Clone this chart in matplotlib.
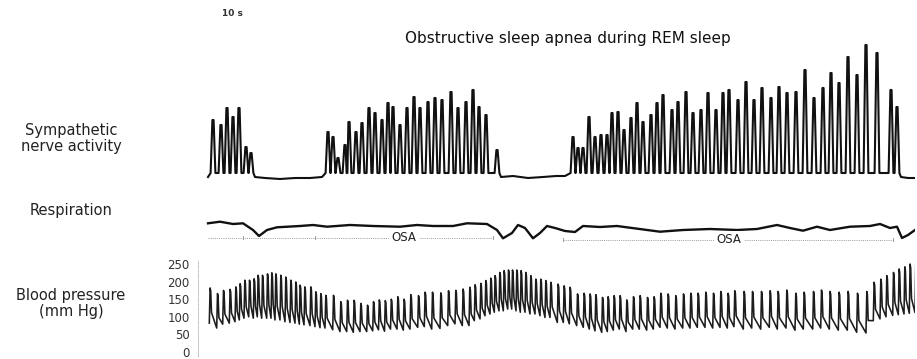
import numpy as np
import matplotlib
matplotlib.use("Agg")
import matplotlib.pyplot as plt

# ---------------- data (time in trace units from start of recording) ----------------
# Sympathetic nerve activity: burst times and burst amplitudes (arbitrary units)
sna_t = [5, 13, 19, 25, 31, 38, 43,
         120, 125, 130, 137, 141, 148, 154, 161, 167, 174, 180, 185, 192, 199, 206, 212,
         220, 227, 234, 243, 250, 258, 265, 271, 278, 289,
         365, 370, 375, 381, 387, 393, 399, 404, 410, 416, 423, 429, 435, 443, 449, 455,
         464, 470, 478, 485, 493, 500, 508, 515, 521, 530, 538, 546, 554, 563, 571, 579,
         588, 597, 606, 615, 623, 631, 640, 649, 658, 669, 683, 689]
sna_h = [57, 52, 69, 60, 69, 30, 24,
         45, 40, 19, 32, 55, 45, 54, 69, 64, 57, 74, 70, 52, 69, 80, 69,
         75, 79, 77, 85, 69, 75, 87, 70, 62, 27,
         40, 29, 29, 60, 40, 42, 42, 64, 65, 47, 59, 74, 55, 62, 74, 82,
         67, 75, 85, 64, 67, 84, 67, 84, 87, 77, 95, 77, 89, 79, 90, 84,
         85, 107, 79, 89, 104, 94, 120, 102, 132, 124, 87, 70]
# quiet (apnoeic) baseline segments of nerve activity
sna_base_t = [0, 47, 57, 72, 87, 102, 114, 293, 305, 320, 335, 348, 357, 693, 700, 707]
sna_base_v = [0, 0, -1, -2, -1, -1, 0, 0, 1, -1, 0, 1, 1, 0, -1, -1]

# Respiration trace
resp_t = [0, 12, 25, 35, 45, 51, 59, 69, 92, 105, 119, 142, 165, 192, 209, 225, 245, 259,
          279, 289, 295, 304, 310, 317, 325, 332, 339, 347, 357, 367, 375, 392, 409, 452,
          475, 502, 529, 549, 569, 582, 595, 609, 622, 642, 662, 672, 682, 689, 694, 700, 707]
resp_v = [6.7, 8.3, 6, 6.7, 0, -6, 0, 2.7, 4, 5, 3.3, 5, 4, 3.3, 5, 4, 4, 6.7,
          6, 0, -8.3, -3, 5, 2, -8.3, -3, 4, 2, -1, -2, 4, 3, 4, -1.7,
          0, 1, 0, 1, 5, 2, -0.7, 3.3, 0, 3.3, 4, 6, 2, 3.3, -8, -5, 0]
# obstructive apnoea episodes (start, end) and marker ticks
osa_spans = [(0, 285), (355, 685)]
osa_label_t = [196, 521]
osa_ticks = [35, 107, 285, 355, 685]

# Blood pressure: beat times, systolic and diastolic (mm Hg)
bp_t = [1.3, 8.7, 14.7, 21.3, 27, 31.3, 36, 40.7, 45.3, 49.3, 53.7, 58.7, 63, 67, 72, 77,
        82, 87, 91.3, 96, 102, 107, 112, 117, 124.7, 132, 138.7, 145.3, 152, 158.7, 164.7, 170.5,
        176.5, 182.5, 189, 195.3, 202, 209.7, 216.3, 223.7, 232, 239.7, 247, 254.3, 261, 266.3,
        272, 277, 282, 286.3, 291, 295.3, 299.7, 303.7, 308, 312.3, 317, 322, 327, 332, 337, 342,
        349.3, 355.3, 361.3, 368.7, 375.3, 381.3, 387, 393.7, 399.3, 405.3, 411.3, 418, 424.7,
        431.3, 438.7, 445.3, 452, 459.3, 467, 474.7, 482, 489.3, 497, 504.7, 512, 519.3, 526,
        535.3, 543.7, 552.7, 561.3, 569.3, 578, 587, 595.3, 604.7, 612.7, 621.3, 630.3, 639.3,
        648.7, 658, 665.3, 672, 678, 684.7, 690.3, 696, 701.3, 707]
bp_sys = [182, 166, 175, 178, 185, 194, 204, 204, 208, 218, 218, 222, 225, 222, 218, 213,
          204, 199, 190, 185, 185, 171, 166, 161, 161, 143, 147, 147, 138, 133, 143, 148,
          146, 150, 157, 150, 163, 160, 170, 170, 168, 174, 175, 179, 184, 191, 195, 203,
          210, 217, 226, 231, 233, 233, 233, 231, 226, 217, 207, 207, 203, 198,
          193, 188, 184, 165, 167, 165, 163, 155, 157, 160, 160, 148, 157, 160, 155, 157,
          167, 165, 160, 165, 167, 167, 170, 167, 172, 167, 174,
          172, 172, 172, 174, 172, 176, 167, 170, 172, 176, 172, 170, 172, 167, 172, 198,
          207, 217, 226, 236, 242, 250, 255]
bp_dia = [82, 68, 79, 82, 86, 91, 96, 100, 96, 100, 96, 96, 96, 91, 91, 86,
          84, 82, 79, 77, 75, 72, 69, 68, 63, 58, 58, 56, 58, 58, 60, 63,
          59, 65, 65, 62, 65, 70, 72, 65, 67, 75, 80, 75, 75, 89, 94, 103,
          108, 113, 117, 117, 122, 122, 117, 113, 113, 108, 108, 103, 98, 98,
          84, 84, 80, 75, 70, 65, 60, 56, 58, 62, 65, 58, 65, 65, 62, 65,
          70, 68, 65, 68, 68, 70, 70, 68, 70, 68, 72,
          65, 68, 65, 70, 65, 68, 62, 65, 65, 68, 65, 62, 62, 56, 54, 89,
          94, 100, 104, 106, 108, 110, 112]
bp_ticks = [0, 50, 100, 150, 200, 250]

# ---------------- figure ----------------
plt.rcParams['font.family'] = ['DejaVu Sans']
W, H = 917, 359
fig = plt.figure(figsize=(W / 100, H / 100), dpi=100)

def fx(px):
    return px / W

def fy(py):
    return 1 - py / H

left = fx(198)
width = fx(915) - left
XL = (-10, 707)

# --- SNA ---
ax1 = fig.add_axes([left, fy(185), width, fy(30) - fy(185)])
pts = []
for t, h in zip(sna_t, sna_h):
    pts += [(t - 2.4, 4), (t - 0.6, h), (t + 0.6, h), (t + 2.4, 4)]
pts += list(zip(sna_base_t, sna_base_v))
pts.sort()
st, sv = zip(*pts)
ax1.plot(st, sv, color='#111111', lw=1.5, solid_joinstyle='round')
ax1.set_xlim(*XL)
ax1.set_ylim(-8, 147)
ax1.axis('off')

# --- Respiration ---
ax2 = fig.add_axes([left, fy(250), width, fy(205) - fy(250)])
ax2.plot(resp_t, resp_v, color='#111111', lw=1.7, solid_joinstyle='round')
osa_y = [-7.5, -9.5]
for (a, b), lt, yy in zip(osa_spans, osa_label_t, osa_y):
    ax2.plot([a, b], [yy, yy], color='#9a9a9a', lw=0.7, ls=(0, (1, 1.2)))
    ax2.text(lt, yy, 'OSA', ha='center', va='center', fontsize=8.5, color='#222222',
             bbox=dict(facecolor='white', edgecolor='none', pad=1.5))
for tk in osa_ticks:
    yy = osa_y[0] if tk < 320 else osa_y[1]
    ax2.plot([tk, tk], [yy - 1.2, yy + 1.2], color='#9a9a9a', lw=0.7)
ax2.set_xlim(*XL)
ax2.set_ylim(-20, 25)
ax2.axis('off')

# --- Blood pressure ---
ax3 = fig.add_axes([left, fy(355.5), width, fy(260.5) - fy(355.5)])
bx, by = [], []
for t, s, d in zip(bp_t, bp_sys, bp_dia):
    bx += [t, t + 0.8, t + 1.4, t + 2.2]
    by += [d, s, s - 0.08 * (s - d), d + 0.3 * (s - d)]
ax3.plot(bx, by, color='#1c1c1c', lw=1.15, solid_joinstyle='round')
ax3.set_xlim(*XL)
ax3.set_ylim(-10, 260)
ax3.set_yticks(bp_ticks)
ax3.set_yticklabels([str(v) for v in bp_ticks], fontsize=8.5, color='#333333')
ax3.tick_params(axis='y', length=0, pad=6)
ax3.set_xticks([])
for sp in ['top', 'right', 'bottom']:
    ax3.spines[sp].set_visible(False)
ax3.spines['left'].set_color('#bbbbbb')
ax3.spines['left'].set_linestyle((0, (1, 1.5)))
ax3.spines['left'].set_linewidth(0.7)
ax3.patch.set_alpha(0)

# --- text ---
fig.text(fx(568), fy(38), 'Obstructive sleep apnea during REM sleep', ha='center', va='center',
         fontsize=11, color='#111111')
fig.text(fx(232), fy(14), '10 s', ha='center', va='center', fontsize=6.5, fontweight='bold',
         color='#333333')
fig.text(fx(71), fy(138.5), 'Sympathetic\nnerve activity', ha='center', va='center',
         fontsize=10.5, color='#222222', linespacing=1.15)
fig.text(fx(71), fy(211), 'Respiration', ha='center', va='center', fontsize=10.5, color='#222222')
fig.text(fx(71), fy(303.5), 'Blood pressure\n(mm Hg)', ha='center', va='center',
         fontsize=10.5, color='#222222', linespacing=1.15)

fig.savefig('out.png', dpi=100)
